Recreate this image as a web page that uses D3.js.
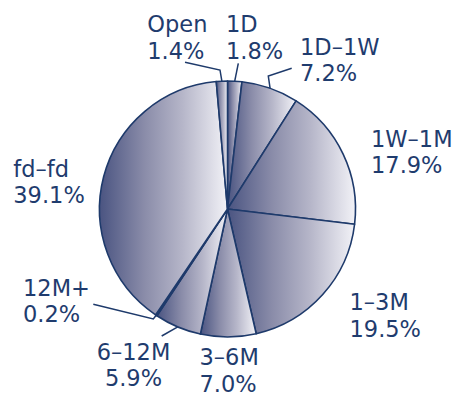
<!DOCTYPE html>
<html>
<head>
<meta charset="utf-8">
<script src="https://cdn.jsdelivr.net/npm/d3@7"></script>
<style>
  html, body { margin: 0; padding: 0; background: #ffffff; }
  svg { display: block; }
</style>
</head>
<body>
<svg id="chart" width="454" height="396"></svg>
<script>
// Maturity buckets, clockwise from 12 o'clock
const categories = ["1D", "1D\u20131W", "1W\u20131M", "1\u20133M", "3\u20136M", "6\u201312M", "12M+", "fd\u2013fd", "Open"];
const shares     = [1.8, 7.2, 17.9, 19.5, 7.0, 5.9, 0.2, 39.1, 1.4];

// Label placement: left edge (or centre), first baseline, optional leader path
const labelLayout = {
  "1D":            { x: 226,   y: 32,    anchor: "start",  leader: [[238.3, 63.3]] },
  "1D\u20131W":    { x: 300,   y: 54.5,  anchor: "start",  leader: [[291.7, 68.3], [268.3, 76]] },
  "1W\u20131M":    { x: 371,   y: 146.5, anchor: "start",  leader: null },
  "1\u20133M":     { x: 349.5, y: 310,   anchor: "start",  leader: null },
  "3\u20136M":     { x: 199.5, y: 365,   anchor: "start",  leader: null },
  "6\u201312M":    { x: 133.5, y: 359.5, anchor: "middle", leader: [[161.7, 336]] },
  "12M+":          { x: 23,    y: 295.5, anchor: "start",  leader: [[93.3, 304.3], [153.3, 319]] },
  "fd\u2013fd":    { x: 13.3,  y: 176.7, anchor: "start",  leader: null },
  "Open":          { x: 147.3, y: 32,    anchor: "start",  leader: [[185, 62.3], [220, 70]] }
};

const navy = "#1e3a6b";
const textColor = "#1f3c6e";
const cx = 227.5, cy = 209, radius = 128;
const lineGap = 26.6;

const svg = d3.select("#chart");

// Horizontal shading applied to each slice's own bounding box
const defs = svg.append("defs");
const grad = defs.append("linearGradient")
  .attr("id", "sliceShade")
  .attr("x1", "0%").attr("y1", "0%")
  .attr("x2", "100%").attr("y2", "0%");
grad.append("stop").attr("offset", "0%").attr("stop-color", "#4a5481");
grad.append("stop").attr("offset", "35%").attr("stop-color", "#8a8ca9");
grad.append("stop").attr("offset", "65%").attr("stop-color", "#b6b6c9");
grad.append("stop").attr("offset", "100%").attr("stop-color", "#f2f2f7");

const data = categories.map((c, i) => ({ category: c, value: shares[i] }));

const pie = d3.pie()
  .sort(null)
  .value(d => d.value)
  .startAngle(0)
  .endAngle(2 * Math.PI);

const arc = d3.arc().innerRadius(0).outerRadius(radius);
const arcs = pie(data);

const g = svg.append("g").attr("transform", `translate(${cx},${cy})`);

g.selectAll("path.slice")
  .data(arcs)
  .join("path")
  .attr("class", "slice")
  .attr("d", arc)
  .attr("fill", "url(#sliceShade)")
  .attr("stroke", navy)
  .attr("stroke-width", 1.6)
  .attr("stroke-linejoin", "round");

// Leader lines from the outer edge of a slice to its label
const edgePoint = a => {
  const mid = (a.startAngle + a.endAngle) / 2;
  return [cx + radius * Math.sin(mid), cy - radius * Math.cos(mid)];
};

const leaderLine = d3.line();
svg.selectAll("path.leader")
  .data(arcs.filter(a => labelLayout[a.data.category].leader))
  .join("path")
  .attr("class", "leader")
  .attr("d", a => leaderLine(labelLayout[a.data.category].leader.concat([edgePoint(a)])))
  .attr("fill", "none")
  .attr("stroke", navy)
  .attr("stroke-width", 1.5);

// Two-line labels: bucket name and share
const labels = svg.selectAll("text.label")
  .data(arcs)
  .join("text")
  .attr("class", "label")
  .attr("font-family", "'DejaVu Sans', Verdana, sans-serif")
  .attr("font-size", 22.5)
  .attr("fill", textColor)
  .attr("text-anchor", a => labelLayout[a.data.category].anchor);

labels.append("tspan")
  .attr("x", a => labelLayout[a.data.category].x)
  .attr("y", a => labelLayout[a.data.category].y)
  .text(a => a.data.category);

labels.append("tspan")
  .attr("x", a => labelLayout[a.data.category].x)
  .attr("y", a => labelLayout[a.data.category].y + lineGap)
  .text(a => d3.format(".1f")(a.data.value) + "%");
</script>
</body>
</html>
